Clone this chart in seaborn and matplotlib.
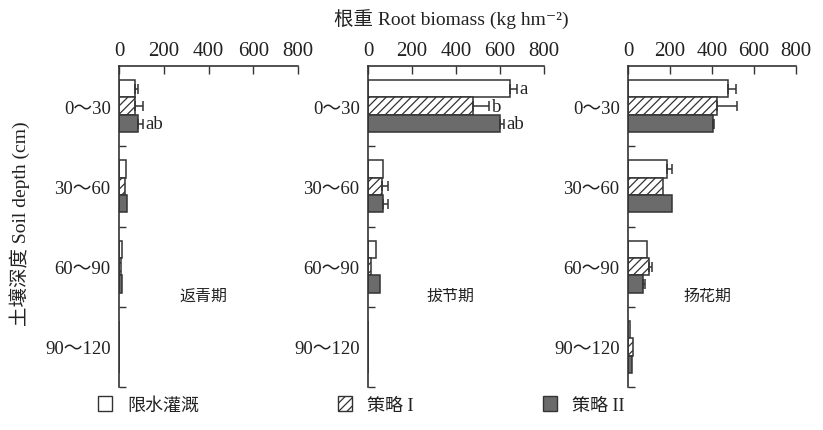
import pandas as pd
import seaborn as sns
import matplotlib.pyplot as plt
from matplotlib.patches import Patch

# Categories
depths = ['0～30', '30～60', '60～90', '90～120']
treatments = ['限水灌溉', '策略 I', '策略 II']
stages = ['返青期', '拔节期', '扬花期']

# Root biomass (kg/hm2): rows = treatments, columns = depths
fanqing_mean = [[72, 31, 14, 2], [72, 27, 10, 2], [86, 34, 14, 2]]
fanqing_err = [[13, 0, 0, 0], [36, 0, 0, 0], [20, 0, 0, 0]]
bajie_mean = [[645, 68, 36, 0], [477, 64, 15, 0], [600, 68, 55, 0]]
bajie_err = [[32, 0, 0, 0], [75, 26, 0, 0], [18, 24, 0, 0]]
yanghua_mean = [[478, 186, 90, 8], [424, 167, 100, 25], [405, 210, 71, 20]]
yanghua_err = [[38, 24, 0, 0], [95, 0, 14, 0], [5, 0, 9, 0]]

# significance letters for the 0~30 layer
fanqing_letters = ['', '', 'ab']
bajie_letters = ['a', 'b', 'ab']
yanghua_letters = ['', '', '']

stage_means = [fanqing_mean, bajie_mean, yanghua_mean]
stage_errs = [fanqing_err, bajie_err, yanghua_err]
stage_letters = [fanqing_letters, bajie_letters, yanghua_letters]

serif = ['Liberation Serif', 'Noto Sans CJK SC', 'DejaVu Serif']
cjk = ['Noto Sans CJK SC', 'DejaVu Sans']

sns.set_style('white')
plt.rcParams['font.family'] = serif
plt.rcParams['hatch.linewidth'] = 0.9
plt.rcParams['hatch.color'] = '#333333'

edge = '#333333'
txt = '#222222'
palette = {'限水灌溉': 'white', '策略 I': 'white', '策略 II': '#6b6b6b'}

fig = plt.figure(figsize=(8.23, 4.31), dpi=100)
boxes = [(119, 179), (368, 176), (628, 168)]
H = 431
W = 823
top, bottom = 67, 388

for k, (stage, means, errs, letters) in enumerate(zip(stages, stage_means, stage_errs, stage_letters)):
    x0, w = boxes[k]
    ax = fig.add_axes([x0 / W, 1 - bottom / H, w / W, (bottom - top) / H])

    rows = []
    for i, t in enumerate(treatments):
        for j, d in enumerate(depths):
            rows.append({'depth': d, 'treatment': t, 'value': means[i][j]})
    df = pd.DataFrame(rows)

    sns.barplot(data=df, y='depth', x='value', hue='treatment', order=depths,
                hue_order=treatments, palette=palette, orient='h', width=0.65,
                edgecolor=edge, linewidth=1.1, errorbar=None, legend=False,
                ax=ax)

    for i, t in enumerate(treatments):
        for j in range(len(depths)):
            p = ax.patches[i * len(depths) + j]
            yc = p.get_y() + p.get_height() / 2
            xe = p.get_width()
            if i == 1:
                p.set_hatch('////')
            if errs[i][j] > 0:
                ax.errorbar(xe, yc, xerr=[[0], [errs[i][j]]], fmt='none',
                            ecolor=edge, elinewidth=1.1, capsize=3.5, capthick=1.1)
            if j == 0 and letters[i]:
                ax.text(xe + errs[i][j] + 12, yc, letters[i], ha='left', va='center',
                        fontsize=13.5, color=txt, family=serif)

    ax.set_xlim(0, 800)
    ax.set_ylim(len(depths) - 0.5, -0.5)
    ax.xaxis.tick_top()
    ax.set_xticks([0, 200, 400, 600, 800])
    ax.tick_params(axis='x', direction='in', length=6, width=1, colors=edge,
                   labelsize=15, labelcolor=txt, pad=4)
    ax.set_yticks(range(len(depths)))
    ax.set_yticklabels(depths)
    ax.set_yticks([0.5, 1.5, 2.5, 3.5], minor=True)
    ax.tick_params(axis='y', which='major', length=0, labelsize=13.5,
                   labelcolor=txt, pad=6)
    ax.tick_params(axis='y', which='minor', direction='in', length=5, width=1,
                   colors=edge, left=True)
    ax.set_xlabel('')
    ax.set_ylabel('')
    for s in ['right', 'bottom']:
        ax.spines[s].set_visible(False)
    for s in ['top', 'left']:
        ax.spines[s].set_color(edge)
        ax.spines[s].set_linewidth(1.2)

    ax.text(0.47, 0.285, stage, transform=ax.transAxes, ha='center', va='center',
            fontsize=11.5, color=txt, family=cjk)

fig.text(451 / W, 1 - 20 / H, '根重 Root biomass (kg hm⁻²)', ha='center', va='center',
         fontsize=14, color=txt, family=serif)
fig.text(20 / W, 1 - 224 / H, '土壤深度 Soil depth (cm)', ha='center', va='center',
         rotation=90, fontsize=14, color=txt, family=serif)

# legend entries, placed one by one
handles = [Patch(facecolor='white', edgecolor=edge),
           Patch(facecolor='white', edgecolor=edge, hatch='////'),
           Patch(facecolor='#6b6b6b', edgecolor=edge)]
legend_x = [98, 338, 543]
for h, t, lx in zip(handles, treatments, legend_x):
    leg = fig.legend([h], [t], loc='center left', bbox_to_anchor=(lx / W, 1 - 406 / H),
                     frameon=False, borderaxespad=0, borderpad=0, handlelength=0.8,
                     handleheight=0.9, handletextpad=0.8,
                     prop={'family': serif, 'size': 13})
    for tx in leg.get_texts():
        tx.set_color(txt)

fig.savefig('out.png', dpi=100)
